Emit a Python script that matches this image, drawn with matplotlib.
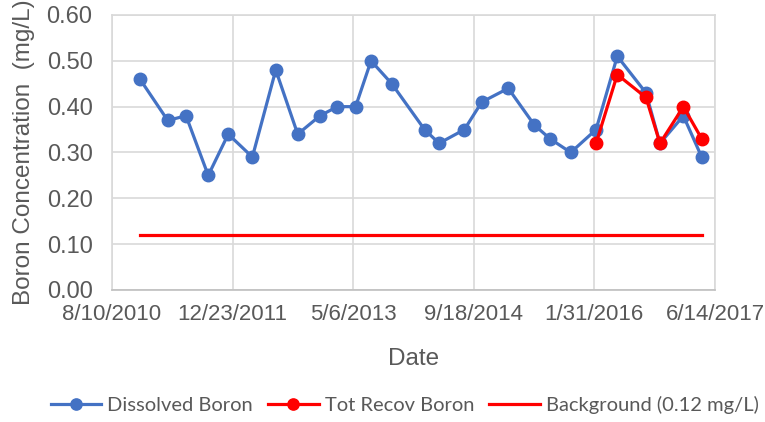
import datetime as dt
import matplotlib
matplotlib.use("Agg")
import matplotlib.pyplot as plt

# dissolved boron samples
dissolved_dates = ["2010-12-04", "2011-03-29", "2011-06-13", "2011-09-13", "2011-12-05",
                   "2012-03-14", "2012-06-19", "2012-09-18", "2012-12-19", "2013-03-01",
                   "2013-05-16", "2013-07-19", "2013-10-13", "2014-02-26", "2014-04-27",
                   "2014-08-10", "2014-10-21", "2015-02-08", "2015-05-27", "2015-07-31",
                   "2015-10-25", "2016-02-07", "2016-05-05", "2016-09-01", "2016-10-29",
                   "2017-02-03", "2017-04-20"]
dissolved = [0.46, 0.37, 0.38, 0.25, 0.34, 0.29, 0.48, 0.34, 0.38, 0.40,
             0.40, 0.50, 0.45, 0.35, 0.32, 0.35, 0.41, 0.44, 0.36, 0.33,
             0.30, 0.35, 0.51, 0.43, 0.32, 0.38, 0.29]

# total recoverable boron
totrec_dates = ["2016-02-07", "2016-05-05", "2016-09-01", "2016-10-29", "2017-02-03", "2017-04-20"]
totrec = [0.32, 0.47, 0.42, 0.32, 0.40, 0.33]

background = 0.12

tick_dates = ["2010-08-10", "2011-12-23", "2013-05-06", "2014-09-18", "2016-01-31", "2017-06-14"]
tick_labels = ["8/10/2010", "12/23/2011", "5/6/2013", "9/18/2014", "1/31/2016", "6/14/2017"]

to_date = lambda s: dt.datetime.strptime(s, "%Y-%m-%d")
d_x = [to_date(s) for s in dissolved_dates]
t_x = [to_date(s) for s in totrec_dates]
ticks = [to_date(s) for s in tick_dates]

plt.rcParams['font.family'] = ['Liberation Sans', 'DejaVu Sans']

BLUE = "#4472C4"
RED = "#FF0000"
GREY = "#595959"

fig = plt.figure(figsize=(7.65, 4.22), dpi=100)
ax = fig.add_axes([0.1464, 0.3128, 0.7882, 0.6517])

ax.plot(d_x, dissolved, color=BLUE, lw=2.3, marker="o", ms=9, label="Dissolved Boron", zorder=3)
ax.plot(t_x, totrec, color=RED, lw=2.3, marker="o", ms=9, label="Tot Recov Boron", zorder=4)
ax.plot([d_x[0], d_x[-1]], [background, background], color=RED, lw=2.3,
        label="Background (0.12 mg/L)", zorder=2)

ax.set_xlim(ticks[0], ticks[-1])
ax.set_ylim(0, 0.6)
ax.set_xticks(ticks)
ax.set_xticklabels(tick_labels)
ax.set_yticks([0.0, 0.1, 0.2, 0.3, 0.4, 0.5, 0.6])
ax.yaxis.set_major_formatter(plt.FuncFormatter(lambda v, p: f"{v:.2f}"))

ax.grid(True, color="#d9d9d9", lw=1.2)
ax.set_axisbelow(True)
for s in ax.spines.values():
    s.set_color("#d9d9d9")
    s.set_linewidth(1.2)
ax.spines['bottom'].set_color("#bfbfbf")
ax.tick_params(length=0, colors=GREY)
ax.tick_params(axis='x', labelsize=16, pad=10)
ax.tick_params(axis='y', labelsize=17, pad=14)

ax.set_xlabel("Date", fontsize=17.5, color=GREY, labelpad=17)
ax.set_ylabel("Boron Concentration  (mg/L)", fontsize=17.5, color=GREY, labelpad=8)

leg = fig.legend(loc="center", bbox_to_anchor=(0.529, 0.04), ncol=3, frameon=False,
                 prop={'family': ['Lato', 'Liberation Sans', 'DejaVu Sans'], 'size': 14.5},
                 handlelength=2.5, handletextpad=0.3, columnspacing=0.75,
                 markerscale=0.9)
for t in leg.get_texts():
    t.set_color(GREY)

fig.savefig("out.png", dpi=100)
